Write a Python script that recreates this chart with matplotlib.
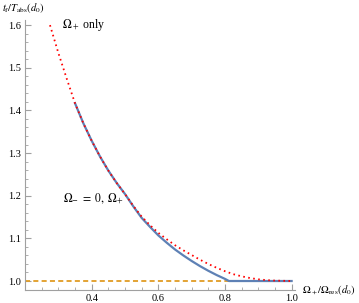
import matplotlib.pyplot as plt
from matplotlib.ticker import MultipleLocator

plt.rcParams['font.family'] = ['Liberation Serif', 'DejaVu Serif']
plt.rcParams['mathtext.fontset'] = 'stix'

# Omega_+ only (red dotted)
x_only = [0.275, 0.30, 0.325, 0.35, 0.375, 0.40, 0.425, 0.45, 0.475, 0.50, 0.525, 0.55,
          0.575, 0.60, 0.625, 0.65, 0.675, 0.70, 0.725, 0.75, 0.775, 0.80, 0.825, 0.85,
          0.875, 0.90, 0.925, 0.95, 1.0]
y_only = [1.600, 1.535, 1.475, 1.417, 1.370, 1.329, 1.292, 1.259, 1.230, 1.204, 1.176, 1.151,
          1.131, 1.113, 1.098, 1.084, 1.072, 1.061, 1.050, 1.040, 1.031, 1.023, 1.016, 1.011,
          1.007, 1.004, 1.002, 1.001, 1.0]

# Omega_- = 0, Omega_+ (blue solid)
x_both = [0.35, 0.375, 0.40, 0.425, 0.45, 0.475, 0.50, 0.525, 0.55, 0.575, 0.60, 0.625,
          0.65, 0.675, 0.70, 0.725, 0.75, 0.775, 0.80, 0.812, 0.90, 1.0]
y_both = [1.417, 1.370, 1.329, 1.292, 1.259, 1.230, 1.204, 1.175, 1.148, 1.127, 1.107, 1.090,
          1.074, 1.060, 1.047, 1.035, 1.024, 1.014, 1.005, 1.0, 1.0, 1.0]

# reference level (orange dashed)
x_ref = [0.2, 0.812]
y_ref = [1.0, 1.0]

fig = plt.figure(figsize=(3.59, 3.03), dpi=100)
ax = fig.add_axes([0.0696, 0.043, 0.752, 0.891])

ax.plot(x_ref, y_ref, color="#E19C24", lw=1.3, ls=(0, (2.8, 1.8)))
ax.plot(x_both, y_both, color="#5E81B5", lw=1.6)
ax.plot(x_only, y_only, color="red", lw=1.3, ls=(0, (0.9, 1.9)))

ax.set_xlim(0.2, 1.01)
ax.set_ylim(0.979, 1.612)

for s in ["top", "right"]:
    ax.spines[s].set_visible(False)
for s in ["left", "bottom"]:
    ax.spines[s].set_color("#a0a0a0")

ax.set_xticks([0.4, 0.6, 0.8, 1.0])
ax.set_xticklabels(["0.4", "0.6", "0.8", "1.0"])
ax.set_yticks([1.0, 1.1, 1.2, 1.3, 1.4, 1.5, 1.6])
ax.set_yticklabels(["1.0", "1.1", "1.2", "1.3", "1.4", "1.5", "1.6"])
ax.xaxis.set_minor_locator(MultipleLocator(0.05))
ax.yaxis.set_minor_locator(MultipleLocator(0.02))
ax.tick_params(which="major", direction="in", length=4, color="#a0a0a0", labelsize=7.5, pad=3)
ax.tick_params(which="minor", direction="in", length=2, color="#a0a0a0")

fig.text(0.005, 0.972, r"$t_\mathrm{f}/T_\mathrm{abs}(d_0)$", fontsize=7.6, va="center", ha="left")
fig.text(0.842, 0.043, r"$\Omega_+/\Omega_\mathrm{res}(d_0)$", fontsize=7.6, va="center", ha="left")
ax.text(0.31, 1.6, r"$\Omega_+$ only", fontsize=8.5, va="center", ha="left")
ax.text(0.315, 1.193, r"$\Omega_{-} \;=\; 0,\ \Omega_{+}$", fontsize=8.5, va="center", ha="left")

fig.savefig("out.png", dpi=100)
